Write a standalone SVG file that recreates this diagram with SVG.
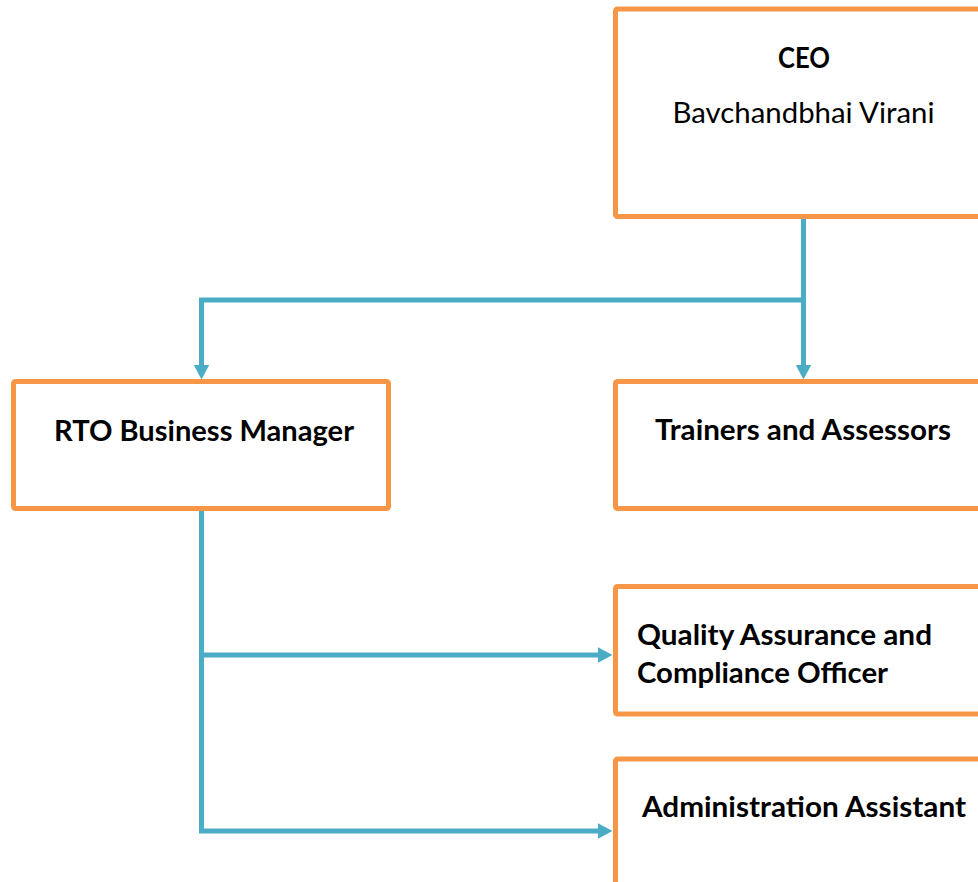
<svg xmlns="http://www.w3.org/2000/svg" width="978" height="882" viewBox="0 0 978 882">
  <style>
    .box { fill: #ffffff; stroke: #F79646; stroke-width: 5; }
    .conn { fill: none; stroke: #4BACC6; stroke-width: 5; stroke-linejoin: miter; }
    .t { font-family: Lato, "Liberation Sans", sans-serif; font-size: 29px; fill: #000000; }
    .b { font-weight: bold; }
  </style>
  <defs>
    <marker id="arr" markerUnits="userSpaceOnUse" markerWidth="16" markerHeight="17" viewBox="0 -8.5 16 17" refX="0.5" refY="0" orient="auto">
      <path d="M0,-8 L15,0 L0,8 Z" fill="#4BACC6"/>
    </marker>
  </defs>
  <rect width="978" height="882" fill="#ffffff"/>

  <g id="connectors">
    <path class="conn" d="M803.5,219 V300 H201.5 V365" marker-end="url(#arr)"/>
    <path class="conn" d="M803.5,298 V365" marker-end="url(#arr)"/>
    <path class="conn" d="M201.5,511 V831 H598" marker-end="url(#arr)"/>
    <path class="conn" d="M201.5,655 H598" marker-end="url(#arr)"/>
  </g>

  <g id="ceo">
    <rect class="box" x="615.5" y="9" width="376" height="207.5" rx="2"/>
    <text class="t b" x="804" y="68" text-anchor="middle" textLength="52" lengthAdjust="spacingAndGlyphs">CEO</text>
    <text class="t" x="803.5" y="123" text-anchor="middle" textLength="262" lengthAdjust="spacingAndGlyphs">Bavchandbhai Virani</text>
  </g>

  <g id="rto-business-manager">
    <rect class="box" x="13.5" y="381.5" width="375" height="127" rx="2"/>
    <text class="t b" x="204" y="441" text-anchor="middle" textLength="300" lengthAdjust="spacingAndGlyphs">RTO Business Manager</text>
  </g>

  <g id="trainers-assessors">
    <rect class="box" x="615.5" y="381.5" width="376" height="127" rx="2"/>
    <text class="t b" x="803" y="440" text-anchor="middle" textLength="296" lengthAdjust="spacingAndGlyphs">Trainers and Assessors</text>
  </g>

  <g id="quality-assurance">
    <rect class="box" x="615.5" y="586.5" width="376" height="127.5" rx="2"/>
    <text class="t b" x="637" y="645" textLength="295" lengthAdjust="spacingAndGlyphs">Quality Assurance and</text>
    <text class="t b" x="637" y="683" textLength="251" lengthAdjust="spacingAndGlyphs">Compliance Officer</text>
  </g>

  <g id="administration-assistant">
    <rect class="box" x="615.5" y="759" width="376" height="160" rx="2"/>
    <text class="t b" x="804" y="817" text-anchor="middle" textLength="324" lengthAdjust="spacingAndGlyphs">Administration Assistant</text>
  </g>
</svg>
